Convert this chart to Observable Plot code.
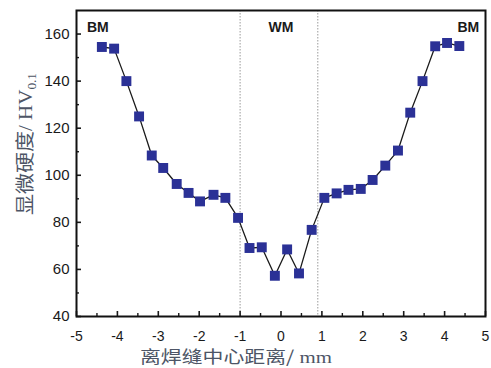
<!DOCTYPE html>
<html>
<head>
<meta charset="utf-8">
<script src="https://cdn.jsdelivr.net/npm/d3@7"></script>
<script src="https://cdn.jsdelivr.net/npm/@observablehq/plot@0.6"></script>
<style>
  html, body { margin: 0; padding: 0; background: #fff; }
  #chart { width: 491px; height: 368px; }
</style>
</head>
<body>
<div id="chart"></div>
<script>
// distance from weld centre (mm)
const distance = [-4.38, -4.08, -3.78, -3.47, -3.16, -2.88, -2.55, -2.26, -1.98, -1.65,
                  -1.36, -1.05, -0.77, -0.47, -0.15, 0.15, 0.44, 0.75, 1.06, 1.36,
                  1.65, 1.95, 2.24, 2.55, 2.86, 3.16, 3.46, 3.77, 4.06, 4.36];
// micro-hardness HV0.1
const hardness = [154.5, 153.8, 140.0, 125.0, 108.4, 103.1, 96.3, 92.5, 88.9, 91.7,
                  90.4, 81.9, 69.1, 69.4, 57.3, 68.5, 58.3, 76.8, 90.4, 92.3,
                  93.8, 94.2, 98.0, 104.1, 110.5, 126.6, 140.0, 154.8, 156.2, 154.9];
// zone labels
const zoneText = ["BM", "WM", "BM"];
const zoneX = [-4.48, 0, 4.58];
const zoneY = [162.8, 162.8, 162.8];
// zone boundaries
const boundaries = [-1, 0.9];
// ticks
const xMajor = [-5, -4, -3, -2, -1, 0, 1, 2, 3, 4, 5];
const xMinor = [-4.5, -3.5, -2.5, -1.5, -0.5, 0.5, 1.5, 2.5, 3.5, 4.5];
const yMajor = [40, 60, 80, 100, 120, 140, 160];
const yMinor = [50, 70, 90, 110, 130, 150];

const data = distance.map((d, i) => ({x: d, y: hardness[i]}));
const zones = zoneText.map((t, i) => ({x: zoneX[i], y: zoneY[i], t}));
const blank = () => "";

const svg = Plot.plot({
  width: 491,
  height: 368,
  marginLeft: 76,
  marginRight: 6,
  marginTop: 10,
  marginBottom: 52,
  x: {domain: [-5, 5]},
  y: {domain: [40, 170]},
  style: {fontFamily: "'Liberation Sans', Arial, sans-serif", fontSize: "14px", color: "#1a1a1a", background: "#fff", overflow: "visible"},
  marks: [
    Plot.ruleX(boundaries, {stroke: "#9a9a9a", strokeWidth: 1, strokeDasharray: "1.5,1.5"}),
    Plot.line(data, {x: "x", y: "y", stroke: "#1a1a1a", strokeWidth: 1.3}),
    Plot.dot(data, {x: "x", y: "y", symbol: "square", r: 5.6, fill: "#2b3196", stroke: null}),
    Plot.text(zones, {x: "x", y: "y", text: "t", fontWeight: "bold", fontSize: 14, fill: "#1a1a1a"}),
    // inward ticks
    Plot.axisX({ticks: xMajor, tickSize: -5, tickFormat: blank, label: null, strokeWidth: 1.6}),
    Plot.axisX({ticks: xMinor, tickSize: -3, tickFormat: blank, label: null, strokeWidth: 1.4}),
    Plot.axisY({ticks: yMajor, tickSize: -5, tickFormat: blank, label: null, strokeWidth: 1.6}),
    Plot.axisY({ticks: yMinor, tickSize: -3, tickFormat: blank, label: null, strokeWidth: 1.4}),
    // tick labels
    Plot.axisX({ticks: xMajor, tickSize: 0, tickPadding: 11, dy: 4, tickFormat: d => String(d), label: null, fontSize: 14}),
    Plot.axisY({ticks: yMajor, tickSize: 0, tickPadding: 7, tickFormat: d => String(d), label: null, fontSize: 15}),
    Plot.frame({stroke: "#111", strokeWidth: 2})
  ]
});

const s = d3.select(svg);
// x axis title
const xt = s.append("text")
  .attr("x", 236).attr("y", 363)
  .attr("text-anchor", "middle")
  .attr("fill", "#4d5566")
  .attr("font-size", 17)
  .attr("textLength", 192)
  .attr("lengthAdjust", "spacingAndGlyphs");
xt.append("tspan").attr("font-family", "'Noto Sans CJK SC', sans-serif").text("离焊缝中心距离/");
xt.append("tspan").attr("font-family", "'Liberation Serif', serif").text(" mm");

// y axis title
const yt = s.append("text")
  .attr("transform", "translate(32,144) rotate(-90)")
  .attr("text-anchor", "middle")
  .attr("fill", "#4d5566")
  .attr("font-size", 19)
  .attr("textLength", 142)
  .attr("lengthAdjust", "spacingAndGlyphs");
yt.append("tspan").attr("font-family", "'Noto Sans CJK SC', sans-serif").text("显微硬度");
yt.append("tspan").attr("font-family", "'Liberation Serif', serif").text("/ HV");
yt.append("tspan").attr("font-family", "'Liberation Serif', serif").attr("font-size", 12).attr("dy", 4).text("0.1");

document.getElementById("chart").appendChild(svg);
</script>
</body>
</html>
